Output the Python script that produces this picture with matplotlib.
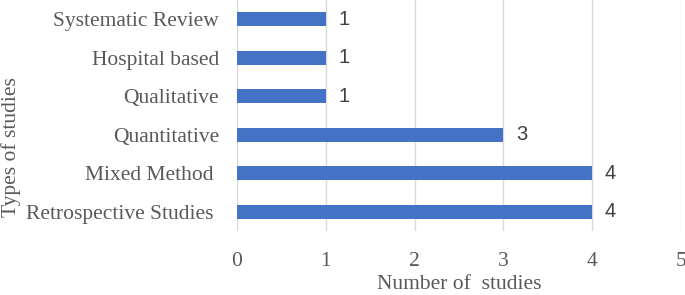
import matplotlib
matplotlib.use("Agg")
import matplotlib.pyplot as plt

categories = ["Retrospective Studies ", "Mixed Method ", "Quantitative", "Qualitative", "Hospital based", "Systematic Review"]
values = [4, 4, 3, 1, 1, 1]
xticks = [0, 1, 2, 3, 4, 5]

fig = plt.figure(figsize=(6.85, 2.95), dpi=100)
ax = fig.add_axes([0.346, 0.217, 0.648, 0.783])
serif = ["Liberation Serif", "DejaVu Serif"]
txt = "#595959"
fs = 15.5

ax.barh(range(len(categories)), values, height=0.36, color="#4472C4", zorder=3)
for i, v in enumerate(values):
    ax.text(v + 0.14, i, str(v), va="center", ha="left", fontsize=14.5,
            family=["Liberation Sans", "DejaVu Sans"], color="#404040")

ax.set_xlim(0, 5)
ax.set_ylim(-0.5, len(categories) - 0.5)
ax.set_xticks(xticks)
ax.set_xticklabels([str(t) for t in xticks], family=serif, fontsize=fs, color=txt)
ax.set_yticks(range(len(categories)))
ax.set_yticklabels(categories, family=serif, fontsize=fs, color=txt)
ax.tick_params(axis="y", length=0, pad=13)
ax.tick_params(axis="x", length=0, pad=15)
ax.grid(axis="x", color="#d9d9d9", linewidth=1, zorder=0)
for s in ax.spines.values():
    s.set_visible(False)
ax.set_xlabel("Number of  studies", family=serif, fontsize=fs, color=txt, labelpad=3)
ax.set_ylabel("Types of studies", family=serif, fontsize=fs, color=txt)
ax.yaxis.set_label_coords(1 / 685, 0.5, transform=fig.transFigure)
ax.yaxis.label.set_verticalalignment("top")

fig.savefig("out.png", dpi=100)
